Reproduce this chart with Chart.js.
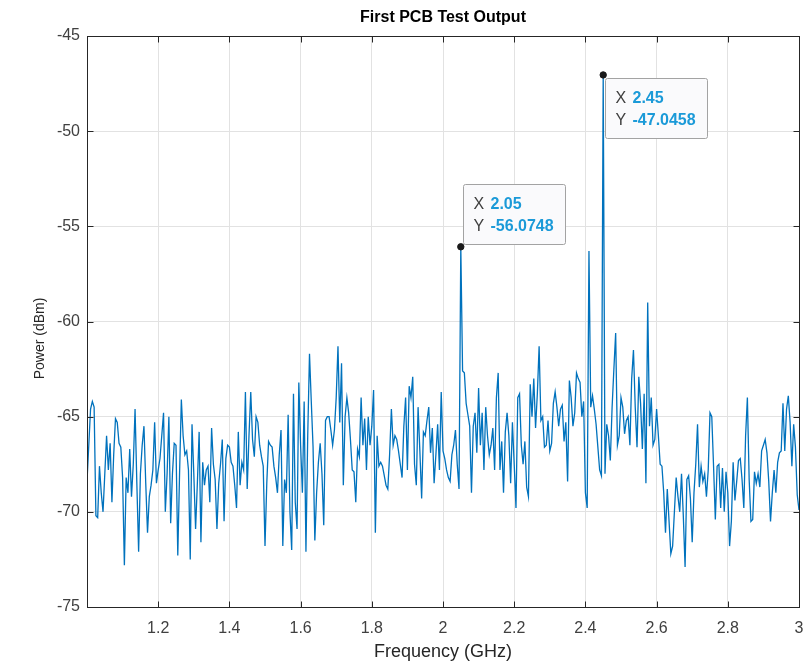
<!DOCTYPE html>
<html>
<head>
<meta charset="utf-8">
<script src="https://cdn.jsdelivr.net/npm/chart.js@4.4.0/dist/chart.umd.min.js"></script>
<style>
    html, body { margin: 0; padding: 0; background: #fff; }
    canvas { display: block; }
</style>
</head>
<body>
<canvas id="pcb-output" width="804" height="663"></canvas>
<script>
// spectrum analyser sweep, 1 - 3 GHz, one reading every 5 MHz
var freqStart = 1.0;
var freqStep = 0.005;
var powerDbm = [
    -68.4, -66.5, -64.6, -64.2, -64.5, -70.2, -70.3, -67.6, -69.0, -70.0,
    -68.0, -66.0, -67.8, -66.4, -69.5, -67.0, -65.1, -65.3, -66.4, -66.6,
    -68.2, -72.8, -68.2, -69.0, -66.7, -69.2, -67.5, -64.6, -68.5, -72.1,
    -68.0, -66.5, -65.5, -68.5, -71.1, -69.2, -68.6, -67.8, -65.3, -68.5,
    -67.8, -67.2, -66.0, -64.8, -70.0, -68.0, -65.0, -70.6, -68.0, -66.4,
    -66.5, -72.3, -68.0, -64.1, -66.0, -67.0, -66.8, -67.8, -72.5, -65.4,
    -68.0, -70.9, -68.5, -65.8, -71.6, -67.4, -68.6, -67.8, -67.6, -69.5,
    -65.6, -67.5, -68.3, -70.9, -68.5, -67.5, -66.2, -70.5, -67.2, -66.5,
    -66.6, -67.4, -67.6, -68.6, -69.8, -65.8, -68.6, -67.4, -67.8, -63.7,
    -68.8, -66.0, -63.7, -66.2, -67.1, -65.0, -65.3, -66.5, -67.1, -67.6,
    -71.8, -68.5, -66.3, -66.5, -66.6, -67.6, -68.2, -69.0, -67.0, -65.7,
    -71.8, -68.3, -69.0, -64.9, -70.0, -72.0, -63.8, -69.5, -70.9, -63.2,
    -66.5, -69.0, -64.2, -72.1, -66.0, -61.7, -64.2, -66.6, -71.5, -69.0,
    -67.4, -66.4, -68.0, -70.7, -65.2, -65.0, -65.0, -65.7, -66.5, -65.7,
    -64.0, -61.3, -65.3, -62.2, -68.6, -65.0, -64.0, -64.8, -66.2, -67.8,
    -67.9, -69.5, -66.7, -67.1, -64.0, -66.5, -65.1, -67.8, -65.0, -66.5,
    -65.5, -63.6, -71.1, -66.0, -67.6, -67.4, -67.6, -68.1, -68.6, -68.8,
    -67.0, -64.6, -66.5, -66.0, -66.2, -66.8, -67.5, -68.2, -65.5, -64.0,
    -67.8, -63.4, -64.0, -62.9, -67.5, -68.6, -64.5, -66.8, -69.3, -65.8,
    -66.0, -65.2, -64.5, -66.9, -65.6, -68.5, -67.0, -65.4, -67.8, -63.7,
    -66.8, -67.2, -67.8, -68.2, -68.4, -67.0, -66.5, -65.7, -67.5, -68.8,
    -56.0748, -62.6, -62.7, -64.3, -64.9, -65.5, -69.0, -65.5, -64.8, -66.9,
    -63.5, -66.5, -64.8, -67.8, -64.5, -66.0, -67.0, -66.5, -65.6, -67.8,
    -64.0, -62.7, -67.8, -66.3, -69.0, -65.8, -64.8, -66.0, -68.5, -65.3,
    -67.5, -69.8, -64.0, -63.8, -66.5, -67.5, -66.3, -68.7, -69.2, -63.3,
    -65.0, -63.0, -65.6, -63.8, -61.3, -65.2, -65.0, -66.6, -66.5, -65.2,
    -66.8, -66.4, -64.3, -63.7, -64.5, -65.5, -64.6, -64.4, -66.3, -65.3,
    -68.4, -63.1, -64.0, -65.5, -64.8, -62.7, -63.0, -63.2, -65.0, -64.2,
    -69.0, -69.8, -56.3, -64.5, -63.9, -64.6, -65.4, -66.6, -67.8, -68.1,
    -47.0458, -68.0, -65.4, -66.0, -67.3, -64.5, -62.5, -60.6, -66.5, -66.0,
    -64.0, -64.5, -65.9, -65.2, -65.0, -66.5, -63.0, -61.5, -64.5, -66.6,
    -62.9, -64.3, -66.7, -63.8, -68.5, -59.0, -65.5, -64.0, -66.5, -66.2,
    -64.6, -66.0, -67.5, -67.6, -69.0, -71.1, -68.8, -70.5, -72.2, -71.8,
    -70.0, -68.2, -69.2, -70.0, -68.0, -70.2, -72.9, -68.3, -68.1, -69.3,
    -71.6, -69.0, -67.5, -65.4, -68.7, -67.6, -68.4, -68.0, -69.2, -67.8,
    -64.8, -65.0, -67.6, -70.4, -67.6, -67.5, -69.8, -67.7, -70.0, -67.9,
    -69.0, -71.8, -70.5, -67.4, -69.4, -68.4, -67.3, -67.2, -68.3, -69.8,
    -66.0, -64.0, -68.3, -70.5, -70.4, -67.9, -68.5, -68.0, -68.7, -66.8,
    -66.5, -66.2, -66.9, -68.4, -70.5, -69.0, -67.8, -69.0, -67.4, -66.9,
    -66.8, -64.3, -66.8, -64.6, -63.9, -65.3, -67.6, -65.4, -66.6, -69.1,
    -69.9
];

var xTicks = [1.2, 1.4, 1.6, 1.8, 2, 2.2, 2.4, 2.6, 2.8, 3];
var yTicks = [-75, -70, -65, -60, -55, -50, -45];

// data cursors placed on the two tones
var tipFreqs = [2.05, 2.45];
var tipPowers = [-56.0748, -47.0458];

var fontFamily = "'Liberation Sans', Arial, Helvetica, sans-serif";

var points = powerDbm.map((p, i) => ({ x: Math.round((freqStart + i * freqStep) * 1000) / 1000, y: p }));
var tipPoints = tipFreqs.map((f, k) => ({ x: f, y: tipPowers[k] }));

// box round the axes plus inward ticks on all four sides, like matlab "box on"
var axesBox = {
    id: 'axesBox',
    afterDatasetsDraw(chart) {
        var ctx = chart.ctx;
        var a = chart.chartArea;
        var xs = chart.scales.x;
        var ys = chart.scales.y;
        var l = Math.round(a.left) + 0.5, r = Math.round(a.right) + 0.5;
        var t = Math.round(a.top) + 0.5, b = Math.round(a.bottom) + 0.5;
        ctx.save();
        ctx.strokeStyle = '#262626';
        ctx.lineWidth = 1;
        ctx.beginPath();
        xTicks.forEach(v => {
            var px = Math.round(xs.getPixelForValue(v)) + 0.5;
            ctx.moveTo(px, b); ctx.lineTo(px, b - 6);
            ctx.moveTo(px, t); ctx.lineTo(px, t + 6);
        });
        yTicks.forEach(v => {
            var py = Math.round(ys.getPixelForValue(v)) + 0.5;
            ctx.moveTo(l, py); ctx.lineTo(l + 6, py);
            ctx.moveTo(r, py); ctx.lineTo(r - 6, py);
        });
        ctx.stroke();
        ctx.strokeRect(l, t, r - l, b - t);

        // title is centred over the axes, not the whole canvas
        ctx.font = 'bold 16px ' + fontFamily;
        ctx.fillStyle = '#000';
        ctx.textAlign = 'center';
        ctx.textBaseline = 'middle';
        ctx.fillText('First PCB Test Output', (a.left + a.right) / 2, a.top - 18);

        // y label sits a little below the axis middle in the original figure
        ctx.translate(40, (a.top + a.bottom) / 2 + 17);
        ctx.rotate(-Math.PI / 2);
        ctx.font = '14px ' + fontFamily;
        ctx.fillStyle = '#262626';
        ctx.fillText('Power (dBm)', 0, 0);
        ctx.restore();
    }
};

// matlab style data tips
var dataTips = {
    id: 'dataTips',
    afterDraw(chart, args, opts) {
        var ctx = chart.ctx;
        var xs = chart.scales.x;
        var ys = chart.scales.y;
        ctx.save();
        tipFreqs.forEach((f, k) => {
            var px = xs.getPixelForValue(f);
            var py = ys.getPixelForValue(tipPowers[k]);
            var rows = [['X', String(f)], ['Y', String(tipPowers[k])]];
            ctx.font = 'bold 16px ' + fontFamily;
            var vw = Math.max(...rows.map(r => ctx.measureText(r[1]).width));
            var w = Math.round(27 + vw + 12);
            var h = 60;
            var bx = Math.round(px + 2) + 0.5;
            var by = opts.placement[k] === 'above' ? Math.round(py - 3 - h) + 0.5 : Math.round(py + 3) + 0.5;

            ctx.fillStyle = '#fafafc';
            ctx.strokeStyle = '#a3a3a3';
            ctx.lineWidth = 1;
            ctx.beginPath();
            ctx.roundRect(bx, by, w, h, 2);
            ctx.fill();
            ctx.stroke();

            ctx.textBaseline = 'middle';
            ctx.textAlign = 'left';
            rows.forEach((r, j) => {
                var ty = by + 20 + j * 22;
                ctx.font = '16px ' + fontFamily;
                ctx.fillStyle = '#404040';
                ctx.fillText(r[0], bx + 10, ty);
                ctx.font = 'bold 16px ' + fontFamily;
                ctx.fillStyle = '#1b9ad8';
                ctx.fillText(r[1], bx + 27, ty);
            });
        });
        ctx.restore();
    }
};

var chart = new Chart(document.getElementById('pcb-output').getContext('2d'), {
    type: 'line',
    data: {
        datasets: [{
            data: points,
            borderColor: '#0072bd',
            borderWidth: 1.3,
            pointRadius: 0,
            tension: 0,
            fill: false,
            order: 1
        }, {
            type: 'scatter',
            data: tipPoints,
            pointRadius: 3.2,
            pointBackgroundColor: '#1a1a1a',
            pointBorderColor: '#1a1a1a',
            showLine: false,
            order: 0
        }]
    },
    options: {
        responsive: false,
        animation: false,
        events: [],
        layout: { padding: { left: 0, right: 5, top: 36, bottom: 0 } },
        plugins: {
            legend: { display: false },
            tooltip: { enabled: false },
            title: { display: false },
            dataTips: { placement: ['above', 'below'] }
        },
        scales: {
            x: {
                type: 'linear',
                min: 1,
                max: 3,
                afterBuildTicks: s => { s.ticks = xTicks.map(v => ({ value: v })); },
                afterFit: s => { s.height = 56; s.paddingLeft = 0; s.paddingRight = 0; },
                grid: { color: '#e2e2e2', drawTicks: false },
                border: { display: false },
                ticks: {
                    color: '#404040',
                    padding: 12,
                    maxRotation: 0,
                    font: { family: fontFamily, size: 16 },
                    callback: v => String(v)
                },
                title: {
                    display: true,
                    text: 'Frequency (GHz)',
                    color: '#262626',
                    font: { family: fontFamily, size: 18 },
                    padding: { top: 0, bottom: 0 }
                }
            },
            y: {
                min: -75,
                max: -45,
                afterBuildTicks: s => { s.ticks = yTicks.map(v => ({ value: v })); },
                afterFit: s => { s.width = 87; s.paddingTop = 0; s.paddingBottom = 0; },
                grid: { color: '#e2e2e2', drawTicks: false },
                border: { display: false },
                ticks: {
                    color: '#404040',
                    padding: 7,
                    font: { family: fontFamily, size: 16 },
                    callback: v => String(v)
                }
            }
        }
    },
    plugins: [axesBox, dataTips]
});
</script>
</body>
</html>
